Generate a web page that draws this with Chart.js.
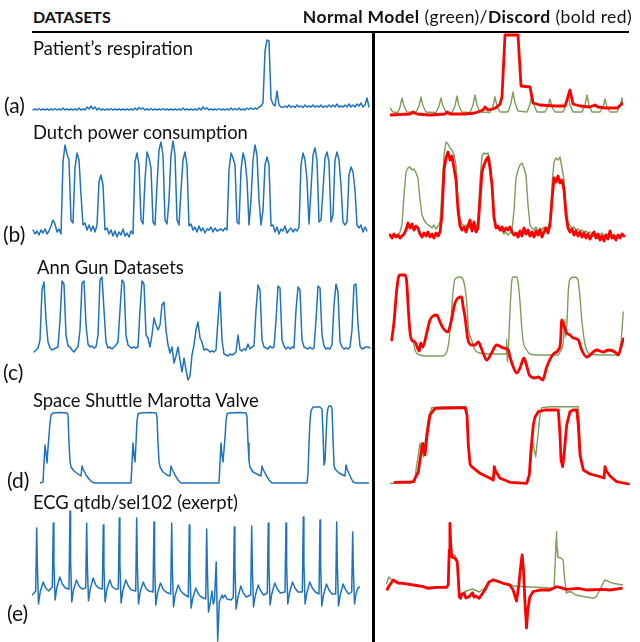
<!DOCTYPE html>
<html><head><meta charset="utf-8">
<script src="https://cdn.jsdelivr.net/npm/chart.js@4.4.1/dist/chart.umd.min.js"></script>
<style>
html,body{margin:0;padding:0;background:#fff;}
#fig{position:relative;width:640px;height:642px;overflow:hidden;background:#fff;font-family:Lato,"Open Sans",sans-serif;color:#111;}
.t{position:absolute;white-space:nowrap;line-height:1;}
canvas{position:absolute;}
.rule{position:absolute;background:#000;}
</style></head><body><div id="fig"></div>
<script>
// ---------- text ----------
const header = "DATASETS";
const titles = ["Patient\u2019s respiration","Dutch power consumption","Ann Gun Datasets","Space Shuttle Marotta Valve","ECG qtdb/sel102 (exerpt)"];
const tags = ["(a)","(b)","(c)","(d)","(e)"];

// ---------- left column: datasets (evenly sampled) ----------
const respLeft = [1,2,1,2.5,1,2,1,2,1,2, 1,2.5,1,2,1,3,1,2,1,2, 1,2,1,3,1,2,1,4,2,5, 2,4,1,3,1,2,1,2,1,2.5,
 1,2,1,2,1,2,1,2,1,2, 1,3,1,3.5,2,3,1,2,1,2.5, 1,2,1,2,1,2.5,1,2,1,2, 1,2,1,2,1,3,1,2,1,2,
 1,2,1,3,1,4,2,3,1,2, 1,2,1,2.5,1,2,1,2,1,3, 1,2.5,1,3,1,2,1,3,1.5,3, 1.5,3,2,4,5,8,60,71,70,12,
 7,5,20,6,4,3.5,5,3.5,6,3.5, 5,3.5,6,4,5,3.5,6,4,5,4, 6,4,5,4,6,3.5,5,4,6,4, 6,4,7,4,5,4,6,4,7,4,
 6,4,7,5,8,4,6,13,4];
const powerLeft = [10,6,9,5,10,7,11,6,9,14, 20,16,8,11,6,78,95,86,80,20, 17,72,87,80,45,15,17,10,15,9,
 14,8,15,58,65,55,10,12,6,10, 4,9,3,8,5,11,4,7,3,9, 6,78,87,75,20,16,60,88,82,72,
 18,15,55,90,98,85,20,16,40,85, 99,85,20,15,50,80,88,75,14,16, 10,13,8,14,9,12,7,11,10,13,
 8,12,9,10,11,9,12,10,70,87, 82,75,18,16,70,87,80,60,15,40, 80,95,85,40,15,30,75,83,75,14,
 15,8,13,6,11,9,14,7,10,12, 8,11,9,13,75,87,80,60,16,50, 85,92,80,18,20,50,82,88,78,18,
 25,80,88,80,55,18,15,18,65,73, 68,50,15,12,15,8,13,9];
const gunLeft = [28,30,32,40,90,98,60,38,32,30, 31,32,33,60,99,96,45,34,33,30, 28,31,33,50,97,99,55,36,33,34,
 32,33,45,100,103,70,38,32,33,31, 33,35,38,70,100,97,45,35,33,32, 33,32,33,70,99,96,45,42,33,45,
 62,55,50,55,75,78,50,35,27,33, 17,24,33,20,8,22,10,0,4,25, 35,50,58,42,38,30,31,30,28,29,
 28,30,60,88,40,26,25,24,26,25, 26,28,45,30,29,31,30,36,31,33, 34,70,95,90,40,33,32,31,34,32,
 33,60,94,92,40,34,31,33,31,33, 32,70,93,90,40,33,32,31,33,31, 32,60,94,92,45,34,31,32,31,35,
 75,96,88,38,33,31,32,31,33,50, 95,96,55,34,31,32,33,33,32];
// [time, value] breakpoints
const valveLeft = [[0,0],[3,1],[4,20],[5,38],[6,30],[7,20],[8,35],[10,60],[11,68],[13,70],[20,70.5],[27,70],[28,68],[29,40],[30,22],[31,16],[34,12],[38,9],[41,7],[42,17],[43,14],[46,8],[49,4],[52,1],[55,0],
 [91,0],[92,20],[93,40],[94,28],[95,21],[96,40],[97,62],[98,69],[100,70],[110,70.5],[116,70],[117,66],[118,40],[119,22],[120,16],[123,11],[127,8],[130,7],[131,17],[132,14],[135,8],[138,3],[141,0],
 [179,0],[180,20],[181,40],[182,28],[183,21],[185,45],[186,62],[187,69],[189,70],[200,70.5],[206,70],[207,66],[208,40],[209,22],[210,16],[213,11],[217,9],[221,7],[222,17],[223,14],[226,8],[229,3],[232,0],
 [267,0],[268,10],[269,40],[270,62],[271,72],[273,76],[280,76],[282,74],[283,50],[284,18],[285,22],[286,45],[287,68],[288,75],[289,77],[291,77],[292,74],[293,45],[294,18],[295,14],[299,10],[303,8],[305,7],[306,18],[307,14],[310,7],[313,1],[316,0],[329,0]];
const ecgLeft = [[0,5],[2,7],
 [3.7,9],[4.7,72],[5.3,36],[6.5,-4],[8.2,8],[11.2,18],[13.7,12],[16.7,9],
 [20.3,13],[21.3,77],[21.9,38],[23.1,0],[24.8,12],[27.8,23],[30.3,16],[33.3,12],
 [37,11],[38,89],[38.6,40],[39.8,-2],[41.5,10],[44.5,20],[47,14],[50,11],
 [53.7,12],[54.7,77],[55.3,36],[56.5,-1],[58.2,11],[61.2,22],[63.7,15],[66.7,12],
 [70.3,11],[71.3,75],[71.9,35],[73.1,-2],[74.8,10],[77.8,20],[80.3,13],[83.3,11],
 [86.3,11],[87.3,82],[87.9,37],[89.1,-3],[90.8,9],[93.8,20],[96.3,14],[99.3,10],
 [103.7,9],[104.7,82],[105.3,36],[106.5,-4],[108.2,8],[111.2,18],[113.7,12],[116.7,9],
 [121,8],[122,78],[122.6,35],[123.8,-5],[125.5,7],[128.5,17],[131,11],[134,8],
 [138.7,6],[139.7,77],[140.3,34],[141.5,-7],[143.2,5],[146.2,15],[148.7,9],[151.7,6],
 [156.3,3],[157.3,75],[157.9,33],[159.1,-8],[160.8,2],[163.8,12],[166.3,6],[169.3,3],
 [173.7,1],[174.7,71],[175.3,32],[176.5,-12],[178,-4],[180,9],[181.3,-4],[182.5,0],[184.2,38],[185.7,-41],[187.3,-2],[190,5],[191.3,2],[193,5],[195,1],[199,0],
 [201.3,3],[202.3,73],[202.9,34],[204.1,-9],[205.8,2],[208.8,14],[211.3,7],[214.3,3],
 [218.7,5],[219.7,74],[220.3,35],[221.5,-7],[223.2,4],[226.2,15],[228.7,9],[231.7,5],
 [235.3,7],[236.3,77],[236.9,36],[238.1,-5],[239.8,6],[242.8,17],[245.3,11],[248.3,7],
 [253,8],[254,77],[254.6,36],[255.8,-4],[257.5,7],[260.5,18],[263,12],[266,8],
 [270.3,8],[271.3,83],[271.9,37],[273.1,-4],[274.8,7],[277.8,18],[280.3,12],[283.3,8],
 [287,6],[288,80],[288.6,36],[289.8,-6],[291.5,5],[294.5,16],[297,10],[300,6],
 [303.7,6],[304.7,78],[305.3,35],[306.5,-6],[308.2,5],[311.2,16],[313.7,10],[316.7,6],
 [319.7,8],[320.7,68],[321.3,34],[322.5,-4],[324.2,7],[326,12],[328,13]];

// ---------- right column: normal model (green) / discord (red) ----------
const respNormal = [[0,8],[3,4],[8,3.5],[10,9],[12,18],[14,10],[17,4],[26,3.5],[29,10],[31,19],[33,10],[36,4],[46,3.5],[49,10],[51,18],[53,10],[56,4],[62,3.5],[65,10],[67,20],[69,10],[72,4],[80,3.5],[83,11],[85,21],[87,11],[90,4],[100,3.5],[103,10],[105,19],[107,10],[110,4],[118,4],[121,13],[123,24],[125,13],[128,5],[137,4],[140,12],[142,22],[144,11],[147,4],[155,4],[158,10],[160,17],[162,9],[165,4],[173,4],[176,11],[178,21],[180,11],[183,4],[192,4],[195,11],[197,21],[199,11],[202,4],[210,4],[213,9],[215,17],[217,9],[220,4],[227,4],[230,10],[232,18],[233,12]];
const respDiscord = [[0,1],[10,1.5],[20,2],[23,4],[27,2],[40,1],[55,2],[57,4],[60,2],[75,2],[85,3],[93,6],[95,9],[98,6],[103,7],[107,9],[110,12],[112,19],[115,81],[128,81],[131,30],[140,29],[143,13],[150,11],[165,10],[175,10],[177,16],[180,26],[183,12],[190,10],[200,9],[205,11],[208,9],[215,8],[227,8],[233,13]];
const powerNormal = [5,3,6,4,5,8,15,45,68,72, 73,70,71,67,62,40,25,20,17,15, 14,12,15,11,14,18,50,85,98,96,
 92,90,85,75,40,20,16,14,15,12, 14,11,13,12,20,60,84,87,86,87, 80,55,25,15,12,10,9,6,8,5,
 7,9,30,62,70,75,77,72,65,35, 15,12,10,13,9,12,10,13,11,12, 20,55,78,82,80,83,72,60,35,18,
 14,12,13,10,11,9,10,8,9,7, 8,6,7,5,6,5,7,4,6,3, 5,4,6,3,5,4,6,5];
const powerDiscord = [5,2,6,3,5,2,4,6,10,17, 12,16,10,14,12,6,3,7,4,8, 3,6,2,7,4,8,25,70,82,88,
 80,84,72,60,30,14,10,13,8,14, 20,9,18,8,12,40,68,75,80,83, 72,55,22,12,14,10,13,9,12,10,
 13,8,5,7,3,9,4,12,6,10, 4,8,3,9,5,10,3,8,12,7, 15,40,62,58,64,57,60,50,25,12,
 8,11,5,9,4,8,3,7,2,6, 1,5,8,2,6,0,4,-1,5,1, 9,2,4,0,5,2,6,4];
const gunNormal = [[1.7,42],[4,60],[6.5,90],[8.3,104],[10,107],[15,107],[16.7,100],[18.5,70],[20,50],[23.3,40],[25,32],[30,27],[40,26],[51.7,26],[56.7,30],[60,50],[63,90],[65,103],[70,105],[73.3,102],[76.7,80],[78.3,55],[81.7,42],[85,32],[90,29],[100,28],[116.3,28],[116.7,43],[117.3,20],[118.3,30],[119.5,60],[121.7,100],[123,105],[126.7,105],[128,100],[130,80],[131.7,55],[133.3,40],[136.7,32],[140,28],[150,27],[168.3,27],[170,30],[173.3,40],[175,63],[175.5,45],[177,60],[178.3,90],[180,103],[185,105],[188,102],[190,85],[192,60],[195,38],[200,28],[215,27],[228.3,27],[230,30],[233.3,70]];
const gunDiscord = [[1.7,42],[4,60],[6.5,90],[8.3,104],[10,107],[15,107],[16.7,100],[18.5,70],[20,50],[21.7,42],[25,40],[28,33],[29.3,31],[30.7,39],[33,35],[36,46],[40,62],[43,66],[46.7,67],[50,60],[53,54],[58,50],[61,60],[65,79],[68,84],[71.7,85],[73,76],[75,65],[78,42],[81.7,37],[85,37],[88.3,40],[92,32],[96.7,22],[101,28],[106.7,37],[113.3,34],[118.3,32],[120,25],[123.3,15],[126.7,9],[130,14],[134,24],[137,15],[139.3,7],[145,4],[148.3,5],[152.7,2],[156.7,15],[163.3,28],[168.3,32],[170.5,40],[171.7,62],[173.3,58],[176.7,49],[180,47],[183.3,44],[188.3,42],[191.7,32],[196.7,25],[206.7,32],[213.3,30],[218.3,32],[225,30],[228.3,27],[231,35],[233.3,43]];
const valveNormal = [[0,1.7],[20,2],[25,3],[26,15],[28.3,30],[30,41.7],[33.3,28.3],[36,50],[38,65],[41.7,77.3],[50,78],[65,78.3],[76.7,78],[77.7,60],[78.3,40],[80,22],[81.7,18],[90,12],[100,7],[103.3,5],[104.3,18],[105.5,14],[110,7],[120,3],[136.7,2],[139.3,10],[141.5,30],[142.7,41.7],[145.7,28.3],[148,50],[150,70],[151.7,77.3],[160,78.3],[178.3,78.3],[188.3,78.3],[189.5,60],[190.5,30],[193.3,15],[200,11],[210,8.3],[214,7],[215,18],[216.5,14],[220,9],[226.7,3.3],[240,1]];
const valveDiscord = [[5,2.7],[20,3],[23.3,3.3],[28.3,13],[30.7,30],[32.7,41.7],[35,30],[37,50],[40,70],[45,76.7],[60,77],[75,77.3],[77,70],[78.3,40],[80,21],[81.7,18.3],[90,11.7],[100,6.7],[103.3,5],[104.3,18.3],[105.5,14],[110,6.7],[120,2.7],[136.7,1.7],[139.3,10],[141,35],[143.3,60],[145,68],[148.3,73.3],[155,75],[168.3,75],[170,50],[171,25],[172.7,18.3],[174,30],[176.7,60],[180,73.3],[183,75],[186.7,75],[188.3,60],[190,30],[193.3,15],[200,11],[210,8.3],[214,7],[215,18.3],[216.5,14],[220,9],[226.7,3.3],[238.3,1]];
const ecgNormal = [[0,16],[1.3,18],[2.7,23],[6,20],[10,18],[20,16],[30,14.5],[40,13],[50,12.5],[60.7,13],[62.3,15],[63.3,45],[64,70],[64.6,55],[65.7,45],[69,45],[71.3,40],[72.5,20],[73.3,5],[75.3,3],[78,8],[83.3,10],[86.7,11],[93.3,8],[99,12],[103,17],[107.3,21],[110.7,20],[117.3,17],[124,16],[127.3,14],[140,13.3],[160,12.3],[168.3,11.7],[169.3,35],[170.3,60],[170.7,68.3],[171.3,50],[172,43],[175,42],[177.3,40],[179,20],[180.7,6.7],[182,8],[185,8.3],[190,5],[194,4.3],[207.3,1.7],[210.7,3.3],[216,14],[219,20],[227.3,16.7],[237.3,15]];
const ecgDiscord = [[1.3,10.7],[3,14],[7.3,20],[12,17],[17.3,16.7],[27.3,15],[37.3,13.3],[42.3,11.7],[45,12],[50.7,12.7],[60.7,12.7],[62.3,15],[63.3,50],[64,76.7],[64.6,60],[65.7,43.3],[69,41.7],[71.3,38.3],[72.5,20],[73.3,3.3],[74.7,1.7],[76,6],[78.3,6.7],[80,2],[83.3,3.3],[86.7,7.3],[88,3],[90,4],[93.3,1.7],[99,10],[103,18],[107.3,20],[110.7,19],[117.3,16.7],[124,15],[127.3,10],[130.7,-1],[133,15],[135,35],[136.3,45],[137.7,30],[139,0],[140.7,-28],[142,-10],[144,3],[147.3,8.3],[154,10],[164,10],[170.7,13.3],[174,12.7],[180.7,10.7],[192.3,11.7],[200.7,10],[217.3,10.7],[224,10],[235.7,11.7]];

// ---------- drawing ----------
const fig = document.getElementById('fig');
function txt(html, left, top, size, bold, right, ls){
  const d = document.createElement('div'); d.className = 't';
  d.innerHTML = html; d.style.fontSize = size + 'px';
  if (bold) d.style.fontWeight = '700';
  if (ls) d.style.letterSpacing = ls + 'px';
  d.style.top = top + 'px';
  if (right !== undefined && right !== null) d.style.right = right + 'px'; else d.style.left = left + 'px';
  fig.appendChild(d);
}
function rule(l, t, w, h){ const d = document.createElement('div'); d.className='rule';
  Object.assign(d.style,{left:l+'px',top:t+'px',width:w+'px',height:h+'px'}); fig.appendChild(d); }

const BLUE = '#1f72bd', GREEN = '#7b9e5a', RED = '#ff0000';
const pts = a => a.map(p => ({x:p[0], y:p[1]}));
const idx = a => a.map((_, i) => i);

function panel(box, yMin, yMax, xMax, datasets, labels){
  const P = 3;
  const c = document.createElement('canvas');
  c.width = box[2] + 2*P; c.height = box[3] + 2*P;
  c.style.left = (box[0]-P) + 'px'; c.style.top = (box[1]-P) + 'px';
  c.style.width = c.width + 'px'; c.style.height = c.height + 'px';
  fig.appendChild(c);
  new Chart(c, {type:'line', data:{labels: labels, datasets: datasets},
    options:{responsive:false, animation:false, devicePixelRatio:1, layout:{padding:P},
      plugins:{legend:{display:false}, tooltip:{enabled:false}},
      elements:{point:{radius:0}, line:{tension:0, borderJoinStyle:'round', borderCapStyle:'round'}},
      scales:{ x: labels ? {type:'category', display:false} : {type:'linear', display:false, min:0, max:xMax},
               y: {display:false, min:yMin, max:yMax} } }});
}
const blue = d => ({data:d, borderColor:BLUE, borderWidth:1.5, fill:false});
const green = d => ({data:d, borderColor:GREEN, borderWidth:1.4, fill:false});
const red = d => ({data:d, borderColor:RED, borderWidth:2.8, fill:false});
const mono = o => Object.assign(o, {cubicInterpolationMode:'monotone'});

// left column
panel([33,39,336,74], -2, 72, null, [blue(respLeft)], idx(respLeft));
panel([33,140,334,102], -2, 100, null, [blue(powerLeft)], idx(powerLeft));
panel([34,275,336,107], -2, 105, null, [blue(gunLeft)], idx(gunLeft));
panel([40,403,329,82], -2, 80, 329, [blue(pts(valveLeft))]);
panel([32,508,328,137], -45, 92, 328, [blue(pts(ecgLeft))]);
// right column (discord drawn on top)
panel([390,32,233,86], -2, 84, 233, [red(pts(respDiscord)), green(pts(respNormal))]);
panel([390,140,234,104], -4, 100, null, [red(powerDiscord), green(powerNormal)], idx(powerNormal));
panel([390,272,234,112], -2, 110, 234, [mono(red(pts(gunDiscord))), mono(green(pts(gunNormal)))]);
panel([390,401,240,86], -2, 84, 240, [red(pts(valveDiscord)), green(pts(valveNormal))]);
panel([386,520,237,112], -32, 80, 237.3, [red(pts(ecgDiscord)), green(pts(ecgNormal))]);

// rules & text
rule(32, 31, 597, 2);
rule(372, 32, 2.5, 610);
txt(header, 33, 9, 16, true);
txt('<b>Normal Model</b> (green)/<b>Discord</b> (bold red)', null, 8, 17.5, false, 8, 0.4);
const titleTop = [39,123,258,391,493], titleLeft = [33,33,37,33,33];
const tagTop = [94,223,361,469,602], tagLeft = [4,3,3,7,7];
titles.forEach((s,i) => txt(s, titleLeft[i], titleTop[i], 18.4, false));
tags.forEach((s,i) => txt(s, tagLeft[i], tagTop[i], 21, false));
</script></body></html>
